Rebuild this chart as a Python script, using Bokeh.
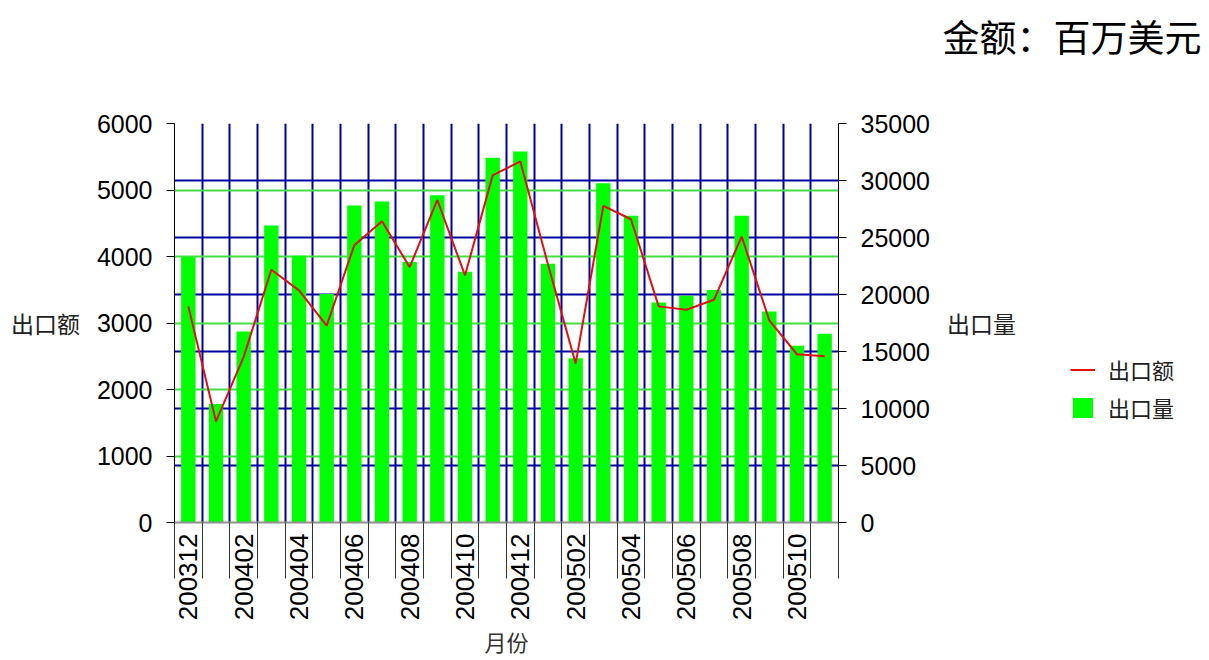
import math
from bokeh.plotting import figure
from bokeh.layouts import column, row
from bokeh.models import (ColumnDataSource, Range1d, LinearAxis, FixedTicker, Grid,
                          Legend, LegendItem, Label)
from bokeh.embed import file_html
from bokeh.resources import INLINE

months = ["200312", "200401", "200402", "200403", "200404", "200405", "200406", "200407",
          "200408", "200409", "200410", "200411", "200412", "200501", "200502", "200503",
          "200504", "200505", "200506", "200507", "200508", "200509", "200510", "200511"]
volume = [23300, 10400, 16750, 26050, 23400, 20050, 27800, 28150, 22850, 28700, 22000, 32000,
          32550, 22700, 14400, 29750, 26900, 19300, 19900, 20400, 26900, 18500, 15500, 16550]
amount = [3250, 1520, 2490, 3800, 3490, 2960, 4170, 4530, 3840, 4850, 3715, 5220,
          5430, 3880, 2390, 4760, 4560, 3250, 3200, 3350, 4300, 3040, 2530, 2500]
left_ticks = [0, 1000, 2000, 3000, 4000, 5000, 6000]
right_ticks = [0, 5000, 10000, 15000, 20000, 25000, 30000, 35000]
series_names = ["出口额", "出口量"]
unit_text = "金额：百万美元"

n = len(months)
xs = list(range(n))
bounds = [i - 0.5 for i in range(n + 1)]
src = ColumnDataSource(dict(x=xs, month=months, volume=volume, amount=amount))

LINE_COLOR = "#E01010"
BAR_COLOR = "#00FF00"
CJK = "Noto Sans CJK SC"

# ---------- top strip with the unit text ----------
t = figure(width=1209, height=80, output_backend="svg", toolbar_location=None,
           x_axis_location=None, y_axis_location=None, min_border=0,
           x_range=Range1d(0, 1), y_range=Range1d(0, 1))
t.outline_line_color = None
t.grid.visible = False
t.add_layout(Label(x=1201, y=45, x_units="screen", y_units="screen", text=unit_text,
                   text_align="right", text_baseline="middle", text_font=CJK,
                   text_font_size="37px", text_color="#000000"))

# ---------- main chart ----------
p = figure(width=1040, height=580, output_backend="svg", toolbar_location=None,
           x_range=Range1d(-0.5, n - 0.5), y_range=Range1d(0, 6000),
           min_border_left=174, min_border_right=202, min_border_top=43,
           min_border_bottom=138)
p.outline_line_color = None
p.background_fill_color = "white"
p.border_fill_color = "white"
p.extra_y_ranges = {"right": Range1d(0, 35000)}

p.xgrid.ticker = FixedTicker(ticks=bounds)
p.xgrid.grid_line_color = "#0000A0"
p.xgrid.grid_line_width = 2
p.ygrid.ticker = FixedTicker(ticks=left_ticks)
p.ygrid.grid_line_color = "#44DD44"
p.ygrid.grid_line_width = 2
g2 = Grid(dimension=1, ticker=FixedTicker(ticks=right_ticks[1:]), y_range_name="right",
          grid_line_color="#0000A0", grid_line_width=2)
p.add_layout(g2)

xa = p.xaxis[0]
xa.ticker = FixedTicker(ticks=xs[::2], minor_ticks=bounds)
xa.major_label_overrides = {i: months[i] for i in xs[::2]}
xa.major_tick_out = 0
xa.major_tick_in = 0
xa.minor_tick_out = 56
xa.minor_tick_in = 0
xa.minor_tick_line_color = "#333333"
xa.axis_line_color = "#909090"
xa.axis_line_width = 2
xa.major_label_orientation = math.pi / 2
xa.major_label_standoff = -45
xa.major_label_text_font = "Liberation Sans"
xa.major_label_text_font_size = "26px"
xa.major_label_text_color = "#000000"
xa.axis_label = "月份"
xa.axis_label_standoff = 2
xa.axis_label_text_font = CJK
xa.axis_label_text_font_size = "22px"
xa.axis_label_text_font_style = "normal"
xa.axis_label_text_color = "#333333"

ya = p.yaxis[0]
ya.ticker = FixedTicker(ticks=left_ticks)
ya.major_tick_out = 8
ya.major_tick_in = 0
ya.minor_tick_line_color = None
ya.axis_line_color = "#000000"
ya.major_tick_line_color = "#000000"
ya.major_label_standoff = 14
ya.major_label_text_font = "Liberation Sans"
ya.major_label_text_font_size = "25px"
ya.major_label_text_color = "#000000"
ya.axis_label = series_names[0]
ya.axis_label_orientation = "horizontal"
ya.axis_label_standoff = 14
ya.axis_label_text_font = CJK
ya.axis_label_text_font_size = "23px"
ya.axis_label_text_font_style = "normal"
ya.axis_label_text_color = "#222222"

ra = LinearAxis(y_range_name="right", ticker=FixedTicker(ticks=right_ticks))
ra.major_tick_out = 8
ra.major_tick_in = 0
ra.minor_tick_line_color = None
ra.axis_line_color = "#000000"
ra.major_tick_line_color = "#000000"
ra.major_label_standoff = 14
ra.major_label_text_font = "Liberation Sans"
ra.major_label_text_font_size = "25px"
ra.major_label_text_color = "#000000"
ra.axis_label = series_names[1]
ra.axis_label_orientation = "horizontal"
ra.axis_label_standoff = 14
ra.axis_label_text_font = CJK
ra.axis_label_text_font_size = "23px"
ra.axis_label_text_font_style = "normal"
ra.axis_label_text_color = "#222222"
p.add_layout(ra, "right")

bars = p.vbar(x="x", top="volume", width=0.52, source=src, y_range_name="right",
              fill_color=BAR_COLOR, line_color=None)
line = p.line(x="x", y="amount", source=src, line_color=LINE_COLOR, line_width=2)

# ---------- legend strip (same series, ranges chosen so only the legend shows) ----------
q = figure(width=169, height=580, output_backend="svg", toolbar_location=None,
           x_axis_location=None, y_axis_location=None,
           min_border_left=0, min_border_right=0, min_border_top=43,
           min_border_bottom=138,
           x_range=Range1d(-1000, -999), y_range=Range1d(-1000, -999))
q.outline_line_color = None
q.grid.visible = False
lg_line = q.line(x="x", y="amount", source=src, line_color=LINE_COLOR, line_width=2)
lg_bar = q.vbar(x="x", top="volume", width=0.52, source=src,
                fill_color=BAR_COLOR, line_color=None)
legend = Legend(items=[LegendItem(label=series_names[0], renderers=[lg_line]),
                       LegendItem(label=series_names[1], renderers=[lg_bar])],
                location=(30, 99), glyph_width=25, glyph_height=25, spacing=6,
                padding=0, margin=0, border_line_color=None, background_fill_alpha=0,
                label_text_font=CJK, label_text_font_size="22px",
                label_standoff=13, label_text_color="#222222")
q.add_layout(legend)

layout = column(t, row(p, q))
open("out.html", "w").write(file_html(layout, INLINE))
